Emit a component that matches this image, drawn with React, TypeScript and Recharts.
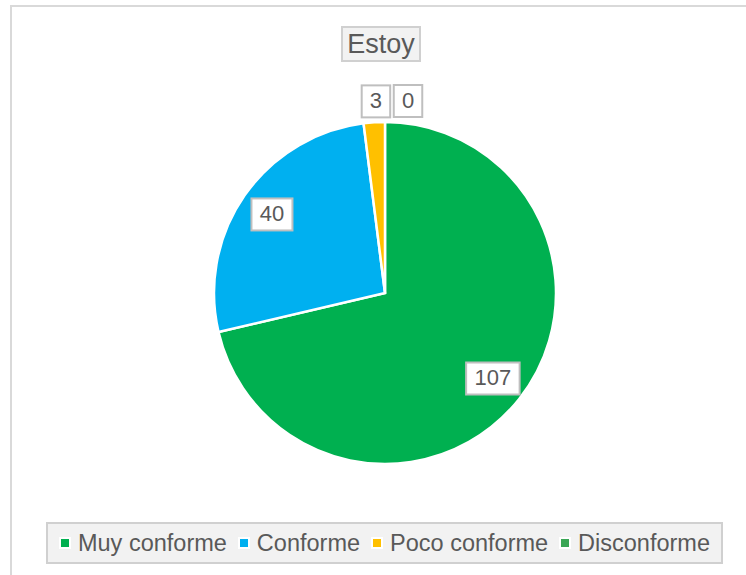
import { PieChart, Pie, Cell, Legend } from "recharts";

const categories = ["Muy conforme", "Conforme", "Poco conforme", "Disconforme"];
const values = [107, 40, 3, 0];
const colors = ["#00b050", "#00b0f0", "#ffc000", "#3aa655"];

const data = categories.map((name, i) => ({ name, value: values[i] }));

const FONT = "'Liberation Sans', Arial, sans-serif";
const TEXT = "#595959";

// small slices get pushed outside the pie, side by side like Excel does
const smallNudge: Record<number, number> = { 2: 3, 3: 23 };

const renderLabel = (props: any) => {
  const { cx, cy, midAngle, outerRadius, value, index, percent } = props;
  const RAD = Math.PI / 180;
  const small = percent < 0.05;
  const r = small ? outerRadius + 21 : outerRadius * 0.805;
  let x = cx + r * Math.cos(-midAngle * RAD);
  const y = cy + r * Math.sin(-midAngle * RAD);
  if (small) x += smallNudge[index] ?? 0;
  const label = String(value);
  const w = label.length * 12.5 + 16;
  const h = 32;
  return (
    <g key={`lbl-${index}`}>
      <rect x={x - w / 2} y={y - h / 2} width={w} height={h} fill="#fff" stroke="#bfbfbf" strokeWidth={2} />
      <text x={x} y={y + 1} textAnchor="middle" dominantBaseline="middle" fontSize={22} fontFamily={FONT} fill={TEXT}>
        {label}
      </text>
    </g>
  );
};

const LegendBox = () => (
  <div
    style={{
      border: "2px solid #d0d0d0",
      background: "#f2f2f2",
      height: 42,
      display: "flex",
      alignItems: "center",
      justifyContent: "center",
      fontFamily: FONT,
      fontSize: 23.5,
      color: TEXT,
      boxSizing: "border-box",
      whiteSpace: "nowrap",
    }}
  >
    {categories.map((c, i) => (
      <span key={c} style={{ display: "inline-flex", alignItems: "center", marginRight: i < categories.length - 1 ? 11 : 0 }}>
        <span
          style={{
            width: 8,
            height: 8,
            background: colors[i],
            border: "2px solid #fff",
            marginRight: 7,
            display: "inline-block",
          }}
        />
        {c}
      </span>
    ))}
  </div>
);

export default function App() {
  return (
    <div style={{ position: "fixed", left: 0, top: 0, width: 746, height: 575, background: "#fff", overflow: "hidden" }}>
      <div
        style={{
          position: "absolute",
          left: 10,
          top: 5,
          width: 760,
          height: 600,
          borderTop: "2px solid #d9d9d9",
          borderLeft: "2px solid #d9d9d9",
        }}
      />
      <div
        style={{
          position: "absolute",
          left: 341,
          top: 26,
          width: 80,
          height: 36,
          boxSizing: "border-box",
          border: "2px solid #d0d0d0",
          background: "#f2f2f2",
          fontFamily: FONT,
          fontSize: 27,
          color: TEXT,
          display: "flex",
          alignItems: "center",
          justifyContent: "center",
        }}
      >
        Estoy
      </div>
      <PieChart
        width={746}
        height={575}
        margin={{ top: 0, right: 0, bottom: 0, left: 0 }}
        style={{ position: "absolute", left: 0, top: 0 }}
      >
        <Pie
          data={data}
          dataKey="value"
          nameKey="name"
          cx={385}
          cy={293}
          outerRadius={171}
          startAngle={90}
          endAngle={-270}
          stroke="#fff"
          strokeWidth={2.5}
          label={renderLabel}
          labelLine={false}
          isAnimationActive={false}
        >
          {data.map((d, i) => (
            <Cell key={d.name} fill={colors[i]} />
          ))}
        </Pie>
        <Legend
          content={<LegendBox />}
          wrapperStyle={{ left: 46, top: 522, bottom: "auto", width: 677 }}
        />
      </PieChart>
    </div>
  );
}
